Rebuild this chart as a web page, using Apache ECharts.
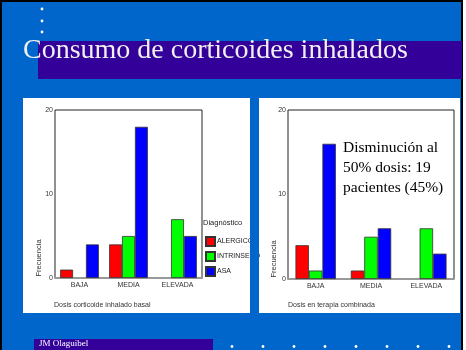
<!DOCTYPE html>
<html><head><meta charset="utf-8">
<script src="https://cdn.jsdelivr.net/npm/echarts@6/dist/echarts.min.js"></script>
<style>html,body{margin:0;padding:0;background:#fff}#c{width:466px;height:350px}</style>
</head><body><div id="c"></div>
<script>
const categories = ['BAJA', 'MEDIA', 'ELEVADA'];
const seriesNames = ['ALERGICO', 'INTRINSECO', 'ASA'];
const basalAlergico = [1, 4, 0];
const basalIntrinseco = [0, 5, 7];
const basalAsa = [4, 18, 5];
const combAlergico = [4, 1, 0];
const combIntrinseco = [1, 5, 6];
const combAsa = [16, 6, 3];
const yMax = 20;
const yInterval = 10;
const titleText = 'Consumo de corticoides inhalados';
const leftXName = 'Dosis corticoide inhalado basal';
const rightXName = 'Dosis en terapia combinada';
const yName = 'Frecuencia';
const legendTitle = 'Diagnóstico';
const noteText = 'Disminución al\n50% dosis: 19\npacientes (45%)';
const author = 'JM Olaguibel';

const colors = ['#FF0000', '#00FF00', '#0000FF'];
const SANS = 'Liberation Sans, Arial, sans-serif';
const SERIF = 'Liberation Serif, Times New Roman, serif';

const chart = echarts.init(document.getElementById('c'), null, {renderer: 'canvas'});

function yAxis(gi) {
  return {
    type: 'value', gridIndex: gi, min: 0, max: yMax, interval: yInterval,
    axisLine: {show: false}, axisTick: {show: false}, splitLine: {show: false},
    axisLabel: {fontSize: 7, color: '#333', fontFamily: SANS, margin: 2}
  };
}
function xAxis(gi) {
  return {
    type: 'category', gridIndex: gi, data: categories,
    axisLine: {show: true, lineStyle: {color: '#999', width: 2}},
    axisTick: {show: false},
    axisLabel: {fontSize: 7, color: '#333', fontFamily: SANS, margin: 4}
  };
}
function bars(vals, gi, gap) {
  return vals.map((v, i) => ({
    type: 'bar', name: seriesNames[i], xAxisIndex: gi, yAxisIndex: gi,
    data: v.map(d => d === 0 ? {value: d, itemStyle: {borderWidth: 0}} : d),
    barGap: '0%', barCategoryGap: gap,
    itemStyle: {color: colors[i], borderColor: '#333', borderWidth: 0.8},
    emphasis: {disabled: true}
  }));
}

const dots = [];
[9, 21, 32].forEach(y => dots.push({type: 'circle', z: -5, shape: {cx: 42, cy: y, r: 1.4}, style: {fill: '#fff'}}));
[232, 263, 294, 325, 356, 387, 418, 449].forEach(x => dots.push({type: 'circle', z: -5, shape: {cx: x, cy: 346.5, r: 1.4}, style: {fill: '#fff'}}));

chart.setOption({
  animation: false,
  backgroundColor: '#ffffff',
  grid: [
    {left: 55, top: 110, width: 147, height: 168, show: true, borderColor: '#222', borderWidth: 1, backgroundColor: 'transparent'},
    {left: 288, top: 110, width: 166, height: 169, show: true, borderColor: '#222', borderWidth: 1, backgroundColor: 'transparent'}
  ],
  xAxis: [xAxis(0), xAxis(1)],
  yAxis: [yAxis(0), yAxis(1)],
  legend: {
    data: seriesNames.map(n => ({name: n, icon: 'rect'})), orient: 'vertical', left: 205, top: 236,
    itemWidth: 9, itemHeight: 9, itemGap: 4,
    textStyle: {fontSize: 7, color: '#222', fontFamily: SANS, padding: [0, 0, 0, -3]},
    padding: 0, selectedMode: false
  },
  series: [].concat(
    bars([basalAlergico, basalIntrinseco, basalAsa], 0, '21%'),
    bars([combAlergico, combIntrinseco, combAsa], 1, '27%')
  ),
  graphic: [
    {type: 'rect', z: -10, shape: {x: 1, y: 1, width: 461, height: 352}, style: {fill: '#0066CC', stroke: '#000', lineWidth: 2}},
    {type: 'rect', z: -9, shape: {x: 38, y: 41, width: 424, height: 38}, style: {fill: '#330099'}},
    {type: 'rect', z: -9, shape: {x: 34, y: 339, width: 179, height: 12}, style: {fill: '#330099'}},
    {type: 'rect', z: -9, shape: {x: 23, y: 98, width: 227, height: 215}, style: {fill: '#fff'}},
    {type: 'rect', z: -9, shape: {x: 259, y: 98, width: 201, height: 215}, style: {fill: '#fff'}},
    ...dots,
    {type: 'text', z: -5, left: 23, top: 37, style: {text: titleText, fill: '#F0F0F0', font: '28px ' + SERIF}},
    {type: 'text', z: -5, left: 39, top: 339, style: {text: author, fill: '#fff', font: '9px ' + SERIF}},
    {type: 'rect', z: 50, shape: {x: 250, y: 98, width: 9, height: 215}, style: {fill: '#0066CC'}},
    {type: 'text', z: 50, x: 39, y: 258, rotation: Math.PI / 2, style: {text: yName, fill: '#333', font: '7.5px ' + SANS, align: 'center', verticalAlign: 'middle'}},
    {type: 'text', z: 50, x: 274, y: 259, rotation: Math.PI / 2, style: {text: yName, fill: '#333', font: '7.5px ' + SANS, align: 'center', verticalAlign: 'middle'}},
    {type: 'text', z: 50, x: 54, y: 305, style: {text: leftXName, fill: '#333', font: '7px ' + SANS, verticalAlign: 'middle'}},
    {type: 'text', z: 50, x: 288, y: 305, style: {text: rightXName, fill: '#333', font: '7px ' + SANS, verticalAlign: 'middle'}},
    {type: 'text', z: 50, x: 203, y: 223, style: {text: legendTitle, fill: '#222', font: '7.5px ' + SANS, verticalAlign: 'middle'}},
    {type: 'text', z: 50, x: 343, y: 138, style: {text: noteText, fill: '#000', font: '15.5px ' + SERIF, lineHeight: 20}}
  ]
});
</script></body></html>
